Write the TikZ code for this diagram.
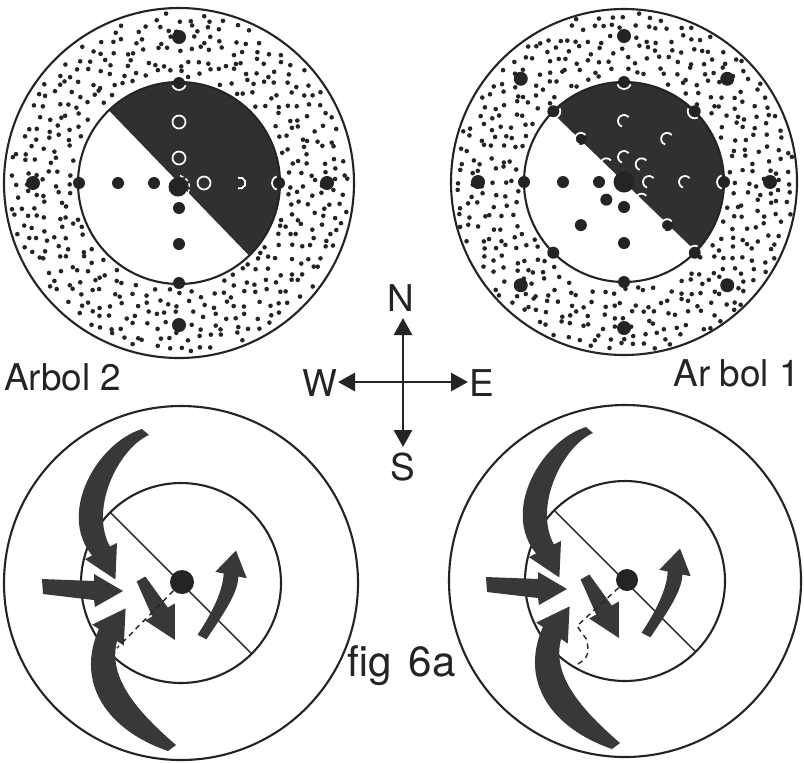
\documentclass[tikz,border=0pt]{standalone}
\usepackage{fontspec}
\setmainfont{TeX Gyre Heros}
\usetikzlibrary{arrows.meta}

\definecolor{ink}{gray}{0.14}
\definecolor{darkfill}{gray}{0.19}
\definecolor{pen}{gray}{0.22}

\tikzset{
  rim/.style={draw=ink, line width=1.2pt},
  half/.style={fill=darkfill},
  hole/.style={draw=white, line width=1pt},
  split/.style={draw=ink, line width=0.8pt},
  trace/.style={draw=ink, line width=0.8pt, dash pattern=on 3pt off 2.5pt},
  flow/.style={fill=pen},
  compass/.style={draw=ink, line width=1.6pt, -{Triangle[length=0.34cm,width=0.36cm]}},
  lbl/.style={font=\fontsize{21}{25}\selectfont, text=ink, inner sep=0pt},
  hub/.style={circle, fill=ink, inner sep=0pt, minimum size=#1}
}

% stippled ring between the two circles
\newcommand{\stipple}{%
  \foreach \i in {-16,...,16}{\foreach \j in {-16,...,16}{%
    \pgfmathsetmacro\sx{\i*11+4.5*rand}%
    \pgfmathsetmacro\sy{\j*11+4.5*rand}%
    \pgfmathsetmacro\sr{veclen(\sx,\sy)}%
    \ifdim\sr pt>106pt\relax\ifdim\sr pt<170pt\relax
      \fill[ink] (\sx,\sy) circle (2.3);\fi\fi}}}

% the five arrows of a lower circle
\newcommand{\flowarrows}{%
  \fill[flow] (-39,-154) .. controls (-84,-140) and (-124,-70) .. (-88.9,-27.5) -- (-96,-23.9) -- (-65.6,-3.5)
    -- (-64,-40.1) -- (-71.1,-36.5) .. controls (-92,-75) and (-62,-135) .. (-32,-148) -- cycle;
  \fill[flow] (-139,-4) -- (-87,-2) -- (-87,-9) -- (-58,8) -- (-86,24) -- (-87,17) -- (-138,11) -- cycle;
  \fill[flow] (-13,168) .. controls (-74,147) and (-106,100) .. (-82.1,46) -- (-88.8,41.6) -- (-55.4,25.4)
    -- (-57.2,62.5) -- (-63.9,58) .. controls (-74,95) and (-42,130) .. (-5,162) -- cycle;
  \fill[flow] (-35.65,-6.5) -- (-13.2,24.5) -- (-6.2,20.5) -- (-6,57) -- (-35.8,37.5) -- (-28.8,33.5)
    -- (-44.35,-1.5) -- cycle;
  \fill[flow] (25.45,56.25) .. controls (43,30) and (57,10) .. (57.35,-6.5) -- (65.7,-4.8) -- (55,-32.5)
    -- (34.3,-11.2) -- (42.65,-9.5) .. controls (42,8) and (31,30) .. (16.55,51.75) -- cycle;
}

\begin{document}
\begin{tikzpicture}[x=0.02cm, y=-0.02cm]
\useasboundingbox (0,0) rectangle (804,762);
\fill[white] (0,0) rectangle (804,762);
\pgfmathsetseed{31}

% Arbol 2
\begin{scope}[shift={(179,183)}]
\stipple
\fill[half] (0,0) -- (-134:101) arc[start angle=-134, end angle=46, radius=101] -- cycle;
\draw[rim] (0,0) circle (101); \draw[rim] (0,0) circle (175);
\foreach \a/\r in {180/25,180/61,180/100,90/25,90/61,90/100,-90/100,0/100}
  \fill[ink] (\a:\r) circle (6);
\foreach \a/\r in {180/146,90/142,-90/146,0/148}
  \fill[ink] (\a:\r) circle (7);
\foreach \a/\r in {-90/25,-90/61,0/25}
  \draw[hole] (\a:\r) circle (6.5);
\draw[hole] (0:61) ++(-110:5.5) arc[start angle=-110, end angle=110, radius=5.5];
\draw[hole] (-90:100) ++(20:7) arc[start angle=20, end angle=160, radius=7];
\draw[hole] (0:100) ++(110:7) arc[start angle=110, end angle=250, radius=7];
\node[hub=0.38cm] (core2) at (-1,4) {};
\draw[white, line width=0.8pt, dash pattern=on 2pt off 1.5pt] (core2.center) ++(-80:11.5) arc[start angle=-80, end angle=70, radius=11.5];
\end{scope}

% Arbol 1
\begin{scope}[shift={(624,182)}]
\stipple
\fill[half] (0,0) -- (-136:100) arc[start angle=-136, end angle=44, radius=100] -- cycle;
\draw[rim] (0,0) circle (100); \draw[rim] (0,0) circle (173);
\foreach \a in {0,45,...,315} \fill[ink] (\a:146) circle (7);
\foreach \a in {90,135,180} \foreach \r in {25,61,100} \fill[ink] (\a:\r) circle (6);
\foreach \a in {-135,45} \foreach \r in {61,100} \fill[ink] (\a:\r) circle (6);
\foreach \a in {-90,-45,0} \fill[ink] (\a:100) circle (6);
\foreach \a/\r in {-90/25,-90/61,-45/25,-45/61,0/25,0/61,-135/25,45/25,-135/61,45/61}
  \draw[hole] (\a:\r) ++(-40:6) arc[start angle=-40, end angle=-250, radius=6];
\foreach \a in {-135,-90,-45,0,45}
  \draw[hole] (\a:100) ++(\a+110:7) arc[start angle=\a+110, end angle=\a+250, radius=7];
\node[hub=0.42cm] (core1) at (0,0) {};
\end{scope}

% lower left
\begin{scope}[shift={(181,583)}]
\draw[rim] (0,0) circle (100); \draw[rim] (0,0) circle (177);
\draw[split] (225:100) -- (45:100);
\flowarrows
\node[hub=0.48cm] (hubL) at (1,-1) {};
\coordinate (footL) at (-64,65);
\draw[trace] (hubL) -- (footL);
\end{scope}

% lower right
\begin{scope}[shift={(625,581)}]
\draw[rim] (0,0) circle (100); \draw[rim] (0,0) circle (176);
\draw[split] (225:100) -- (45:100);
\flowarrows
\node[hub=0.44cm] (hubR) at (2,-1) {};
\coordinate (kinkR) at (-48,45); \coordinate (footR) at (-50,85);
\draw[trace] (hubR) -- (kinkR) -- (-38,59) -- (-37,68) .. controls (-38,77) .. (footR);
\end{scope}

% compass
\coordinate (hubC) at (403,382);
\coordinate (tipN) at (403,318); \coordinate (tipS) at (403,447);
\coordinate (tipW) at (338,382); \coordinate (tipE) at (468,382);
\foreach \t in {N,S,W,E} \draw[compass] (hubC) -- (tip\t);
\node[lbl] (labN) at (401,298) {N};
\node[lbl] (labS) at (403,467) {S};
\node[lbl] (labW) at (320,383) {W};
\node[lbl] (labE) at (482,383) {E};

\node[lbl, anchor=base west] (arbol2) at (4,390) {Arbol 2};
\node[lbl, anchor=base east] (arbol1) at (800,386) {Ar\kern5pt bol 1};
\node[lbl, anchor=base west, font=\fontsize{24}{28}\selectfont] (figlab) at (347,676) {fig\kern3pt\ 6a};
\end{tikzpicture}
\end{document}
